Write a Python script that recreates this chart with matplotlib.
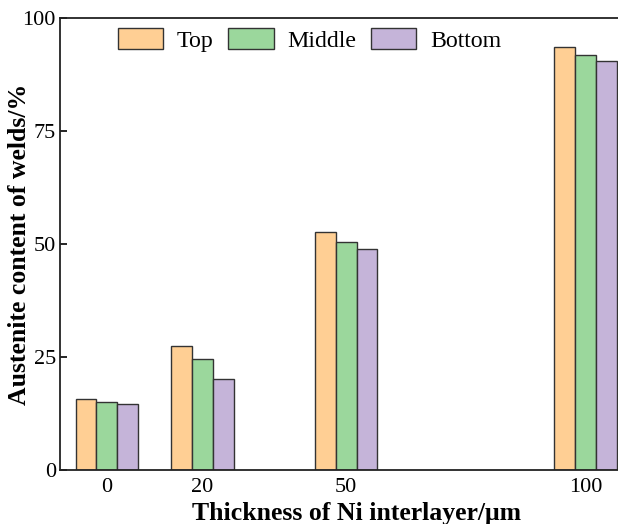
import numpy as np
import matplotlib
matplotlib.use('Agg')
import matplotlib.pyplot as plt

# data
thickness = [0, 20, 50, 100]
top = [15.8, 27.4, 52.7, 93.7]
middle = [15.1, 24.5, 50.5, 91.9]
bottom = [14.7, 20.2, 48.8, 90.6]
series_names = ['Top', 'Middle', 'Bottom']
colors = ['#FFCF94', '#9BD79C', '#C5B4D9']

plt.rcParams['font.family'] = ['Liberation Serif', 'DejaVu Serif']

fig = plt.figure(figsize=(6.18, 5.24), dpi=100)
ax = fig.add_axes([0.097, 0.103, 0.91, 0.8626])

x = np.array(thickness)
w = 4.33
for i, (vals, name, c) in enumerate(zip([top, middle, bottom], series_names, colors)):
    ax.bar(x + (i - 1) * w, vals, width=w, color=c, edgecolor='#333333',
           linewidth=1.0, label=name, zorder=2)

ax.set_xlim(-9.8, 107.7)
ax.set_ylim(0, 100)
ax.set_xticks(thickness)
ax.set_yticks([0, 25, 50, 75, 100])
ax.tick_params(direction='in', length=5, width=1.2, labelsize=16, pad=6)
ax.tick_params(axis='y', pad=3)
for s in ax.spines.values():
    s.set_linewidth(1.3)
    s.set_color('#222222')

ax.set_xlabel('Thickness of Ni interlayer/μm', fontsize=18.5, fontweight='bold')
ax.xaxis.set_label_coords(0.528, -0.07)
ax.set_ylabel('Austenite content of welds/%', fontsize=18.5, fontweight='bold')
ax.yaxis.set_label_coords(-0.052, 0.5)

ax.legend(loc='upper left', bbox_to_anchor=(0.103, 0.978), ncol=3, frameon=False,
          fontsize=17.2, handlelength=1.9, handleheight=1.0, columnspacing=0.6,
          handletextpad=0.58, borderpad=0, borderaxespad=0)

fig.savefig('out.png', dpi=100)
